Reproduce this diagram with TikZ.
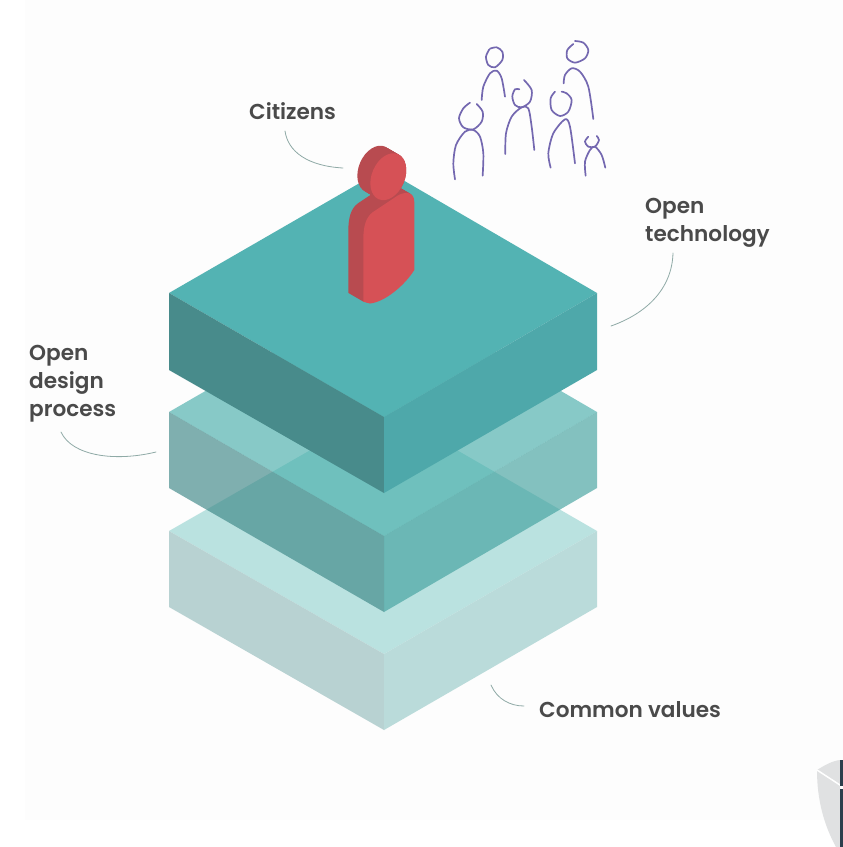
\documentclass[tikz,border=0pt]{standalone}
\usepackage{fontspec}
\setmainfont{Poppins}[UprightFont=* Medium,BoldFont=* SemiBold]
\definecolor{bgc}{HTML}{FDFDFD}
\definecolor{txt}{HTML}{4A4A4A}
\definecolor{lead}{HTML}{8FAAA6}
\definecolor{ppl}{HTML}{7468B0}
\definecolor{redf}{HTML}{D65156}
\definecolor{reds}{HTML}{B84B50}
\tikzset{
  lbl/.style={font=\bfseries\fontsize{21.6}{28}\selectfont,text=txt,align=left,anchor=north west,inner sep=0pt},
  leader/.style={draw=lead,line width=0.8pt,line cap=round},
  stroke/.style={draw=ppl,line width=1.7pt,line cap=round,line join=round},
}
\def\bodypath{(363.3,301.7) -- (363.3,240) .. controls (363.3,226) and (366,217) .. (373,212) -- (397,196) .. controls (403,192) and (414.3,190) .. (414.3,202) -- (414.3,270) .. controls (405,285) and (385,302) .. (370,303.5) -- cycle}
\begin{document}
\begin{tikzpicture}[x=1pt,y=-1pt]
\useasboundingbox (0,0) rectangle (843,847);
\fill[white] (0,0) rectangle (843,847);
\fill[bgc] (25,0) rectangle (843,820);
% bottom slab
\fill[fill={rgb,255:red,186;green,226;blue,224}] (169,531) -- (384,408) -- (597,531) -- (384,654) -- cycle;
\fill[fill={rgb,255:red,184;green,210;blue,210}] (169,531) -- (384,654) -- (384,730) -- (169,607) -- cycle;
\fill[fill={rgb,255:red,186;green,219;blue,218}] (597,531) -- (384,654) -- (384,730) -- (597,607) -- cycle;
% middle slab
\begin{scope}[opacity=.65]
\fill[fill={rgb,255:red,72;green,174;blue,171}] (169,412) -- (384,288) -- (597,412) -- (384,536) -- cycle;
\fill[fill={rgb,255:red,60;green,134;blue,134}] (169,412) -- (384,536) -- (384,612) -- (169,488) -- cycle;
\fill[fill={rgb,255:red,66;green,161;blue,158}] (597,412) -- (384,536) -- (384,612) -- (597,488) -- cycle;
\end{scope}
% top slab
\fill[fill={rgb,255:red,83;green,179;blue,179}] (169,293) -- (384,169) -- (597,293) -- (384,417) -- cycle;
\fill[fill={rgb,255:red,72;green,139;blue,139}] (169,293) -- (384,417) -- (384,493) -- (169,370) -- cycle;
\fill[fill={rgb,255:red,78;green,168;blue,170}] (597,293) -- (384,417) -- (384,493) -- (597,370) -- cycle;
% person: body
\foreach \k in {1,...,15} {
  \fill[reds,shift={(-\k,-.58*\k)}] \bodypath;
}
\fill[redf] \bodypath;
% person: head
\foreach \k in {0,...,13} {
  \fill[reds,shift={(-\k,-.58*\k)},rotate around={-23:(388.3,176.7)}] (388.3,176.7) ellipse [x radius=16.5,y radius=24.5];
}
\fill[redf,rotate around={-23:(388.3,176.7)}] (388.3,176.7) ellipse [x radius=16.5,y radius=24.5];
% crowd
\begin{scope}[shift={(440,30)},x=.3333pt,y=-.3333pt]
\draw[stroke] plot[smooth] coordinates {(148,58)(138,80)(145,105)(165,112)(187,90)(187,65)(170,52)(150,56)};
\draw[stroke] plot[smooth] coordinates {(125,210)(130,170)(150,130)(170,122)(185,145)(195,200)};
\draw[stroke] plot[smooth] coordinates {(238,178)(225,178)(217,200)(225,225)(245,232)(270,215)(275,180)(252,150)};
\draw[stroke] plot[smooth] coordinates {(196,372)(198,310)(215,260)(245,232)(265,235)(275,290)(283,360)};
\draw[stroke] plot[smooth] coordinates {(400,42)(382,60)(382,85)(405,98)(435,85)(445,60)(430,38)(405,33)};
\draw[stroke] plot[smooth] coordinates {(371,160)(375,135)(395,115)(420,125)(445,170)(460,267)};
\draw[stroke] plot[smooth] coordinates {(90,218)(70,235)(57,265)(70,292)(100,298)(125,275)(128,245)(110,222)};
\draw[stroke] plot[smooth] coordinates {(45,448)(40,400)(48,345)(75,305)(100,300)(120,320)(130,370)(128,437)};
\draw[stroke] plot[smooth] coordinates {(345,185)(332,205)(335,240)(360,258)(385,245)(395,210)(380,190)(365,185)};
\draw[stroke] plot[smooth] coordinates {(332,413)(325,370)(340,310)(375,268)(390,290)(405,400)};
\draw[stroke] plot[smooth] coordinates {(445,320)(435,335)(445,350)(465,350)(477,330)(470,318)};
\draw[stroke] plot[smooth] coordinates {(437,437)(435,395)(450,360)(465,350)(485,375)(496,413)};
\end{scope}
% labels
\node[lbl] (citizens) at (249,102) {Citizens};
\node[lbl] (tech) at (645,198) {Open\\technology};
\node[lbl] (design) at (29,345) {Open\\design\\process};
\node[lbl] (values) at (539,701) {Common values};
% leaders
\coordinate (c1) at (285,131); \coordinate (c2) at (343,168);
\coordinate (t1) at (673,253); \coordinate (t2) at (611,326);
\coordinate (d1) at (61,432); \coordinate (d2) at (156,452);
\coordinate (v1) at (491,685); \coordinate (v2) at (524,706);
\draw[leader] (c1) .. controls (288,152) and (308,166) .. (c2);
\draw[leader] (t1) .. controls (672,290) and (645,314) .. (t2);
\draw[leader] (d1) .. controls (72,456) and (115,462) .. (d2);
\draw[leader] (v1) .. controls (497,699) and (510,706) .. (v2);
% corner emblem
\fill[fill={rgb,255:red,224;green,225;blue,226}] (817,770) .. controls (825,765) and (832,761) .. (840,760) -- (840,847) -- (836,847) .. controls (824,825) and (817,800) .. (817,770) -- cycle;
\draw[white,line width=1.5pt] (817,770) -- (843,787);
\fill[fill={rgb,255:red,44;green,62;blue,76}] (840,760) rectangle (843,786);
\fill[fill={rgb,255:red,44;green,62;blue,76}] (840,789) rectangle (843,847);
\end{tikzpicture}
\end{document}
